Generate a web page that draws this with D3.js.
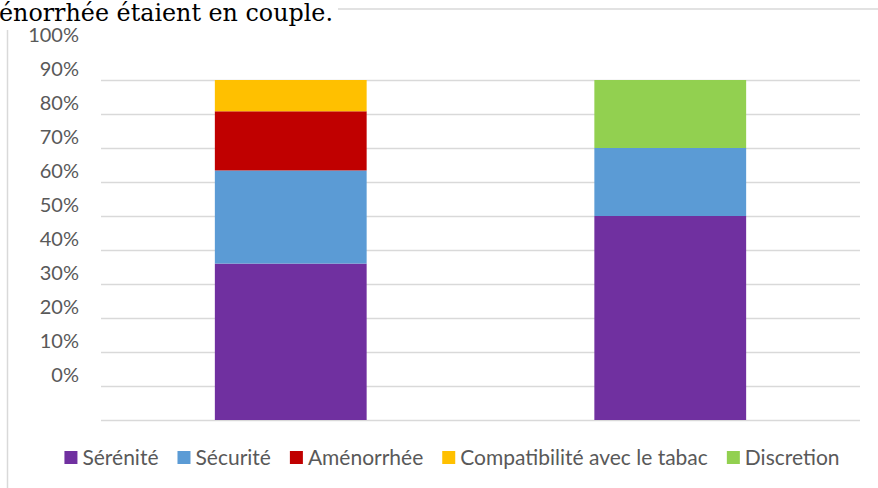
<!DOCTYPE html>
<html lang="fr">
<head>
<meta charset="UTF-8">
<title>Critères de choix</title>
<script src="https://d3js.org/d3.v7.min.js"></script>
<style>
    body { margin: 0; padding: 0; background: #fff; }
    svg { display: block; }
    .lbl text, .legend text { font-family: Lato, "Noto Sans", sans-serif; fill: #595959; }
</style>
</head>
<body>
<svg width="878" height="488"></svg>
<script>
    // data
    const groups = ["Groupe 1", "Groupe 2"];
    const seriesNames = ["Sérénité", "Sécurité", "Aménorrhée", "Compatibilité avec le tabac", "Discretion"];
    const serenite = [46.0, 60.0];
    const securite = [27.4, 20.0];
    const amenorrhee = [17.4, 0];
    const tabac = [9.2, 0];
    const discretion = [0, 20.0];
    const colors = ["#7030a0", "#5b9bd5", "#c00000", "#ffc000", "#92d050"];
    const tickValues = [0, 10, 20, 30, 40, 50, 60, 70, 80, 90, 100];

    const values = [serenite, securite, amenorrhee, tabac, discretion];
    const rows = groups.map((g, i) => {
        const r = { group: g };
        seriesNames.forEach((s, k) => r[s] = values[k][i]);
        return r;
    });

    const svg = d3.select("svg");
    const plotLeft = 101, plotRight = 860, plotTop = 80, plotBottom = 420;

    // cut-off text from the document above the chart
    svg.append("line")
        .attr("x1", 338).attr("x2", 878).attr("y1", 9).attr("y2", 9)
        .attr("stroke", "#d9d9d9").attr("stroke-width", 1.5);
    svg.append("line")
        .attr("x1", 7.5).attr("x2", 7.5).attr("y1", 30).attr("y2", 488)
        .attr("stroke", "#d9d9d9").attr("stroke-width", 1.5);
    svg.append("text")
        .attr("x", -1).attr("y", 21)
        .attr("font-family", "'DejaVu Serif', 'Liberation Serif', serif")
        .attr("font-size", 23.8)
        .attr("fill", "#000")
        .text("énorrhée étaient en couple.");

    const x = d3.scaleBand().domain(groups).range([plotLeft, plotRight])
        .paddingInner(0.6).paddingOuter(0.3);
    const y = d3.scaleLinear().domain([0, 100]).range([plotBottom, plotTop]);

    // gridlines
    svg.append("g")
        .attr("transform", `translate(${plotLeft},0)`)
        .call(d3.axisLeft(y).tickValues(tickValues).tickSize(-(plotRight - plotLeft)).tickFormat(""))
        .call(g => g.select(".domain").remove())
        .call(g => g.selectAll("line").attr("stroke", "#d9d9d9").attr("stroke-width", 1.5));

    // tick labels (shifted up in the original)
    svg.append("g")
        .attr("class", "lbl")
        .attr("transform", `translate(79,-45)`)
        .call(d3.axisLeft(y).tickValues(tickValues).tickSize(0).tickPadding(0).tickFormat(d => d + "%"))
        .call(g => g.select(".domain").remove())
        .call(g => g.selectAll("text").attr("font-size", 20));

    const stack = d3.stack().keys(seriesNames)(rows);
    svg.append("g")
        .selectAll("g")
        .data(stack)
        .join("g")
        .attr("fill", (d, i) => colors[i])
        .selectAll("rect")
        .data(d => d.filter(p => p[1] - p[0] > 0))
        .join("rect")
        .attr("x", d => x(d.data.group))
        .attr("width", x.bandwidth())
        .attr("y", d => y(d[1]))
        .attr("height", d => y(d[0]) - y(d[1]));

    // legend
    const legend = svg.append("g").attr("class", "legend");
    const items = legend.selectAll("g").data(seriesNames).join("g");
    items.append("rect").attr("width", 13).attr("height", 13).attr("y", -14)
        .attr("fill", (d, i) => colors[i]);
    items.append("text").attr("x", 18).attr("y", 0).attr("font-size", 21).text(d => d);
    let cx = 0;
    items.each(function () {
        const w = 18 + d3.select(this).select("text").node().getComputedTextLength();
        d3.select(this).attr("transform", `translate(${cx},0)`);
        cx += w + 19;
    });
    const totalW = cx - 19;
    legend.attr("transform", `translate(${452 - totalW / 2},465)`);
</script>
</body>
</html>
